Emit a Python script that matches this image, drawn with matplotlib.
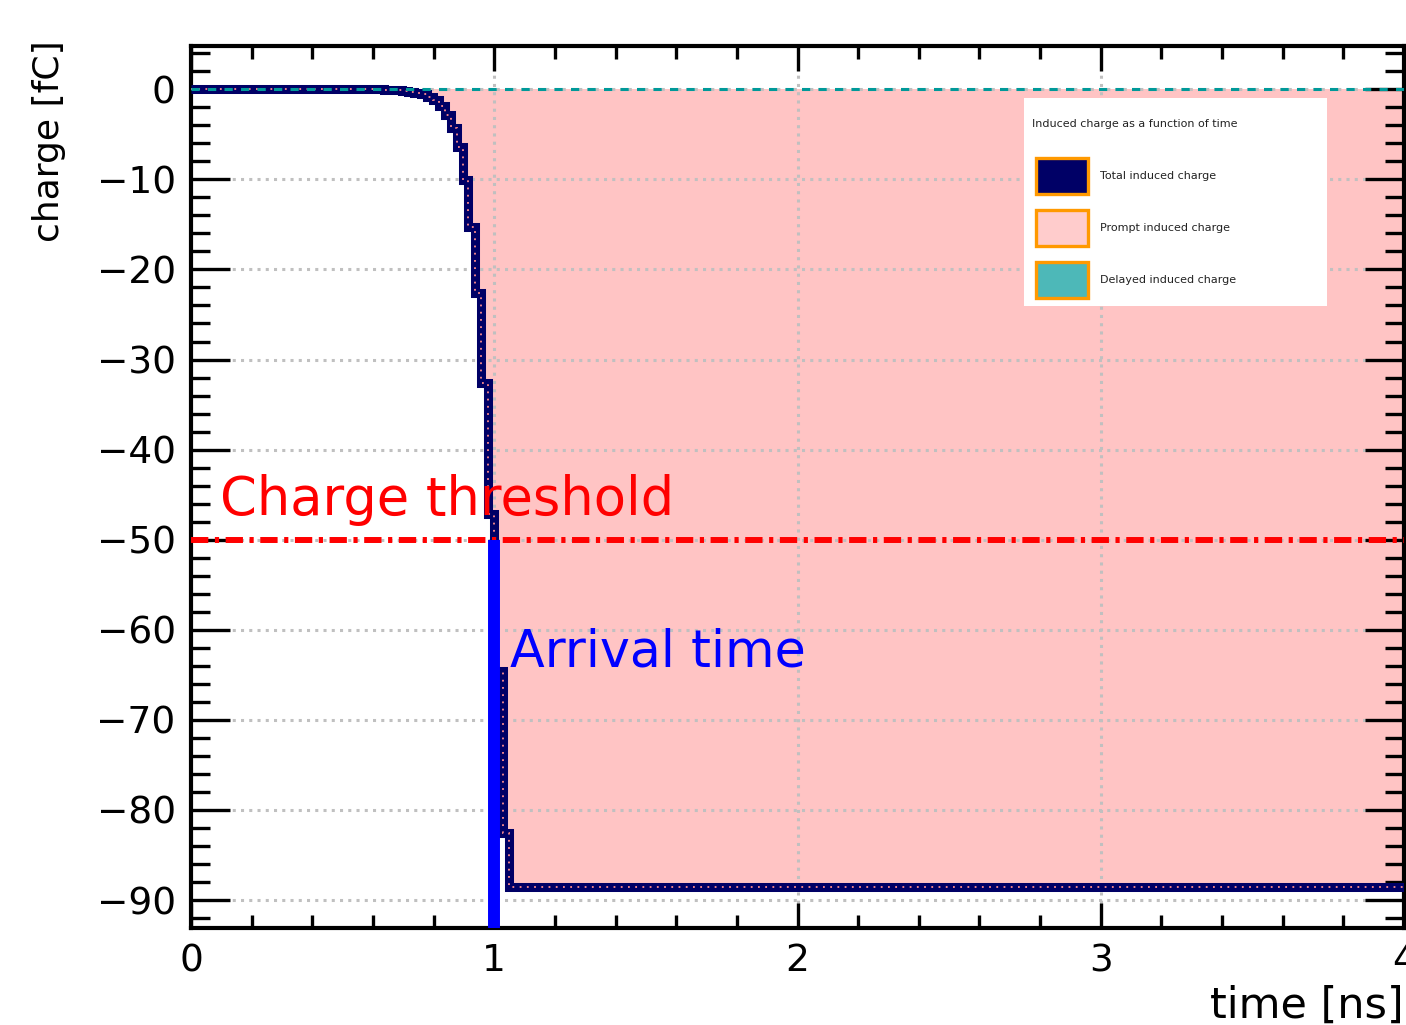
import matplotlib
matplotlib.use("Agg")
import matplotlib.pyplot as plt
import numpy as np
from matplotlib.ticker import MultipleLocator
from matplotlib.patches import Rectangle

# histogram bin edges [ns] and contents [fC]
t_edges = [0.0, 0.617, 0.637, 0.657, 0.677, 0.697, 0.717, 0.737, 0.757, 0.777,
           0.797, 0.817, 0.837, 0.857, 0.877, 0.897, 0.915, 0.937, 0.956,
           0.978, 0.999, 1.030, 1.050, 4.0]
total_charge = [0.0, -0.02, -0.05, -0.08, -0.13, -0.19, -0.28, -0.39, -0.55,
                -0.83, -1.2, -1.9, -2.9, -4.3, -6.4, -10.1, -15.3, -22.6,
                -32.6, -47.1, -64.6, -82.6, -88.6]
prompt_charge = list(total_charge)
delayed_charge = [0.0] * len(total_charge)

threshold = -50.0
arrival_time = 1.0

legend_title = "Induced charge as a function of time"
legend_labels = ["Total induced charge", "Prompt induced charge", "Delayed induced charge"]

navy = "#000066"
pink = "#ffc4c4"
teal = "#009999"
orange = "#ff9900"

W, H = 1406, 1025
fig = plt.figure(figsize=(W / 100, H / 100), dpi=100)
ax = fig.add_axes([191 / W, 1 - 928 / H, (1404 - 191) / W, (928 - 46) / H])

ax.set_xlim(0, 4)
ax.set_ylim(-93.1, 4.8)

# prompt (filled), total (thick navy), delayed (teal dashed)
ax.stairs(prompt_charge, t_edges, baseline=0, fill=True, color=pink, zorder=1)
ax.stairs(total_charge, t_edges, baseline=None, color=navy, lw=6.5, zorder=3)
ax.stairs(prompt_charge, t_edges, baseline=None, color="#ff8c8c", lw=1.3,
          linestyle=(0, (1, 3)), zorder=3.1)
ax.stairs(delayed_charge, t_edges, baseline=None, color=teal, lw=2.2,
          linestyle=(0, (2.7, 2.7)), zorder=3.2)

# threshold and arrival time
ax.axhline(threshold, color="#ff0000", lw=4.3, linestyle=(0, (2.9, 1.1, 0.7, 1.1)), zorder=4)
ax.plot([arrival_time, arrival_time], [threshold, -93.1], color="#0000ff", lw=8.6,
        solid_capstyle="butt", zorder=4)

ax.text(0.096, -47.3, "Charge threshold", color="#ff0000", fontsize=38,
        ha="left", va="baseline", zorder=5)
ax.text(1.052, -64.1, "Arrival time", color="#0000ff", fontsize=36.5,
        ha="left", va="baseline", zorder=5)

# axes style (ROOT like)
ax.xaxis.set_major_locator(MultipleLocator(1))
ax.xaxis.set_minor_locator(MultipleLocator(0.2))
ax.yaxis.set_major_locator(MultipleLocator(10))
ax.yaxis.set_minor_locator(MultipleLocator(2))
ax.tick_params(which="both", direction="in", top=True, right=True, width=2.4,
               labelsize=27, color="black")
ax.tick_params(axis="x", which="major", length=18, pad=11)
ax.tick_params(axis="x", which="minor", length=9.5)
ax.tick_params(axis="y", which="major", length=28, pad=11)
ax.tick_params(axis="y", which="minor", length=14)
for s in ax.spines.values():
    s.set_linewidth(3)
ax.grid(True, which="major", color="#c0c0c0", lw=2.2, linestyle=(0, (1, 1.7)))

fig.text(49 / W, 1 - 141 / H, "charge [fC]", rotation=90, fontsize=26,
         ha="center", va="center")
fig.text(1404 / W, 1 - 1006 / H, "time [ns]", fontsize=31, ha="right", va="center")

# legend box
def fx(x):
    return x / W

def fy(y):
    return 1 - y / H

fig.patches.append(Rectangle((fx(1024), fy(306)), (1327 - 1024) / W, (306 - 98) / H,
                             transform=fig.transFigure, facecolor="white",
                             edgecolor="none", zorder=6))
fig.text(fx(1032), fy(124), legend_title, fontsize=8, ha="left", va="center",
         color="#222222", zorder=7)
handle_faces = [navy, "#ffcccc", "#4db8b8"]
handle_tops = [158, 210, 262]
for face, top, lab in zip(handle_faces, handle_tops, legend_labels):
    fig.patches.append(Rectangle((fx(1036), fy(top + 36)), 52 / W, 36 / H,
                                 transform=fig.transFigure, facecolor=face,
                                 edgecolor=orange, lw=2.4, zorder=7))
    fig.text(fx(1100), fy(top + 18), lab, fontsize=8, ha="left", va="center",
             color="#222222", zorder=7)

fig.savefig("out.png", dpi=100)
